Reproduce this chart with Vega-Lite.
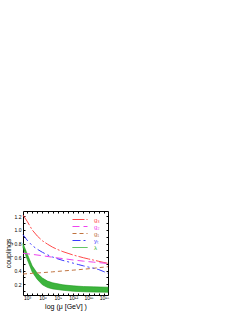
{
  "$schema": "https://vega.github.io/schema/vega-lite/v6.json",
  "width": 85,
  "height": 84,
  "autosize": "none",
  "padding": {"left": 23, "top": 211, "right": 135, "bottom": 19},
  "background": "white",
  "config": {
    "font": "Liberation Sans",
    "view": {"stroke": "black", "strokeWidth": 1},
    "axis": {"grid": false, "domain": false, "tickColor": "black", "labelColor": "black", "titleColor": "black", "labelFontSize": 5, "titleFontSize": 7, "titleFontWeight": "normal", "tickSize": -2}
  },
  "datasets": {
    "curves": [
      {"s": "g₃", "x": 2.2, "y": 1.22}, {"s": "g₃", "x": 3, "y": 1.13}, {"s": "g₃", "x": 4, "y": 1.0}, {"s": "g₃", "x": 5, "y": 0.91},
      {"s": "g₃", "x": 6, "y": 0.84}, {"s": "g₃", "x": 7, "y": 0.79}, {"s": "g₃", "x": 8, "y": 0.745}, {"s": "g₃", "x": 9, "y": 0.71},
      {"s": "g₃", "x": 10, "y": 0.68}, {"s": "g₃", "x": 11, "y": 0.655}, {"s": "g₃", "x": 12, "y": 0.63}, {"s": "g₃", "x": 13, "y": 0.61},
      {"s": "g₃", "x": 14, "y": 0.59}, {"s": "g₃", "x": 15, "y": 0.572}, {"s": "g₃", "x": 16, "y": 0.555}, {"s": "g₃", "x": 17, "y": 0.537},
      {"s": "g₃", "x": 18, "y": 0.52}, {"s": "g₃", "x": 18.8, "y": 0.507},
      {"s": "g₂", "x": 2.2, "y": 0.655}, {"s": "g₂", "x": 4, "y": 0.64}, {"s": "g₂", "x": 6, "y": 0.62}, {"s": "g₂", "x": 8, "y": 0.597},
      {"s": "g₂", "x": 10, "y": 0.577}, {"s": "g₂", "x": 12, "y": 0.557}, {"s": "g₂", "x": 14, "y": 0.54}, {"s": "g₂", "x": 16, "y": 0.525},
      {"s": "g₂", "x": 18.8, "y": 0.505},
      {"s": "g₁", "x": 2.2, "y": 0.35}, {"s": "g₁", "x": 4, "y": 0.36}, {"s": "g₁", "x": 6, "y": 0.37}, {"s": "g₁", "x": 8, "y": 0.382},
      {"s": "g₁", "x": 10, "y": 0.395}, {"s": "g₁", "x": 12, "y": 0.407}, {"s": "g₁", "x": 14, "y": 0.42}, {"s": "g₁", "x": 16, "y": 0.435},
      {"s": "g₁", "x": 18.8, "y": 0.458},
      {"s": "yₜ", "x": 2.2, "y": 0.93}, {"s": "yₜ", "x": 3, "y": 0.85}, {"s": "yₜ", "x": 4, "y": 0.77}, {"s": "yₜ", "x": 5, "y": 0.715},
      {"s": "yₜ", "x": 6, "y": 0.67}, {"s": "yₜ", "x": 7, "y": 0.632}, {"s": "yₜ", "x": 8, "y": 0.6}, {"s": "yₜ", "x": 9, "y": 0.573},
      {"s": "yₜ", "x": 10, "y": 0.55}, {"s": "yₜ", "x": 11, "y": 0.53}, {"s": "yₜ", "x": 12, "y": 0.51}, {"s": "yₜ", "x": 13, "y": 0.49},
      {"s": "yₜ", "x": 14, "y": 0.47}, {"s": "yₜ", "x": 15, "y": 0.452}, {"s": "yₜ", "x": 16, "y": 0.435}, {"s": "yₜ", "x": 17, "y": 0.415},
      {"s": "yₜ", "x": 18, "y": 0.385}, {"s": "yₜ", "x": 18.8, "y": 0.36}
    ],
    "band": [
      {"s": "λ", "x": 2.2, "hi": 0.8, "lo": 0.74}, {"s": "λ", "x": 3, "hi": 0.65, "lo": 0.57}, {"s": "λ", "x": 4, "hi": 0.47, "lo": 0.38},
      {"s": "λ", "x": 5, "hi": 0.36, "lo": 0.27}, {"s": "λ", "x": 6, "hi": 0.29, "lo": 0.19}, {"s": "λ", "x": 7, "hi": 0.245, "lo": 0.15},
      {"s": "λ", "x": 8, "hi": 0.22, "lo": 0.13}, {"s": "λ", "x": 10, "hi": 0.19, "lo": 0.11}, {"s": "λ", "x": 12, "hi": 0.175, "lo": 0.095},
      {"s": "λ", "x": 14, "hi": 0.165, "lo": 0.088}, {"s": "λ", "x": 16, "hi": 0.16, "lo": 0.083}, {"s": "λ", "x": 18.8, "hi": 0.155, "lo": 0.08}
    ]
  },
  "layer": [
    {
      "data": {"name": "band"},
      "mark": {"type": "area", "fill": "#3cb43c", "stroke": "#229a22", "strokeWidth": 0.6},
      "encoding": {
        "x": {"field": "x", "type": "quantitative", "scale": {"domain": [2.2, 18.8], "nice": false, "zero": false},
          "axis": {"orient": "bottom", "values": [3,4,5,6,7,8,9,10,11,12,13,14,15,16,17,18], "labelPadding": 2, "titlePadding": 2,
            "title": "log (μ [GeV] )",
            "labelExpr": "datum.value == 3 ? '10³' : datum.value == 6 ? '10⁶' : datum.value == 9 ? '10⁹' : datum.value == 12 ? '10¹²' : datum.value == 15 ? '10¹⁵' : datum.value == 18 ? '10¹⁸' : ''"}},
        "y": {"field": "hi", "type": "quantitative", "scale": {"domain": [0.04, 1.28], "nice": false, "zero": false},
          "axis": {"orient": "left", "values": [0.1,0.2,0.3,0.4,0.5,0.6,0.7,0.8,0.9,1.0,1.1,1.2], "labelPadding": 4, "titlePadding": 3,
            "title": "couplings",
            "labelExpr": "round(datum.value * 10) % 2 == 0 ? format(datum.value, '.1f') : ''"}},
        "y2": {"field": "lo"}
      }
    },
    {
      "data": {"name": "curves"},
      "mark": {"type": "line", "strokeWidth": 1},
      "encoding": {
        "x": {"field": "x", "type": "quantitative", "axis": null},
        "y": {"field": "y", "type": "quantitative", "axis": null},
        "color": {"field": "s", "type": "nominal", "sort": ["g₃", "g₂", "g₁", "yₜ", "λ"],
          "scale": {"domain": ["g₃", "g₂", "g₁", "yₜ", "λ"], "range": ["#ff4a4a", "#ee44ee", "#c0733f", "#3a3aff", "#33b333"]},
          "legend": {"orient": "none", "legendX": 53.5, "legendY": 5, "title": null, "padding": 0, "symbolType": "M-2.5,0H2.5", "symbolSize": 36,
            "symbolStrokeWidth": 1, "labelFontSize": 6, "labelOffset": 10.5, "rowPadding": 0,
            "labelColor": {"expr": "scale('color', datum.value)"}}},
        "strokeDash": {"field": "s", "type": "nominal", "sort": ["g₃", "g₂", "g₁", "yₜ", "λ"],
          "scale": {"domain": ["g₃", "g₂", "g₁", "yₜ", "λ"], "range": [[12, 2, 2, 2], [7, 4], [4, 3], [8, 3, 2, 3, 2, 3], [1, 0]]},
          "legend": {"orient": "none", "legendX": 53.5, "legendY": 5, "title": null, "padding": 0, "symbolType": "M-2.5,0H2.5", "symbolSize": 36,
            "symbolStrokeWidth": 1, "labelFontSize": 6, "labelOffset": 10.5, "rowPadding": 0,
            "labelColor": {"expr": "scale('color', datum.value)"}}}
      }
    },
    {
      "data": {"name": "curves"},
      "mark": {"type": "point", "opacity": 0},
      "encoding": {
        "x": {"field": "x", "type": "quantitative", "axis": {"orient": "top", "values": [3,4,5,6,7,8,9,10,11,12,13,14,15,16,17,18], "labels": false, "title": null}},
        "y": {"field": "y", "type": "quantitative", "axis": {"orient": "right", "values": [0.1,0.2,0.3,0.4,0.5,0.6,0.7,0.8,0.9,1.0,1.1,1.2], "labels": false, "title": null}}
      }
    }
  ],
  "resolve": {"axis": {"x": "independent", "y": "independent"}}
}
